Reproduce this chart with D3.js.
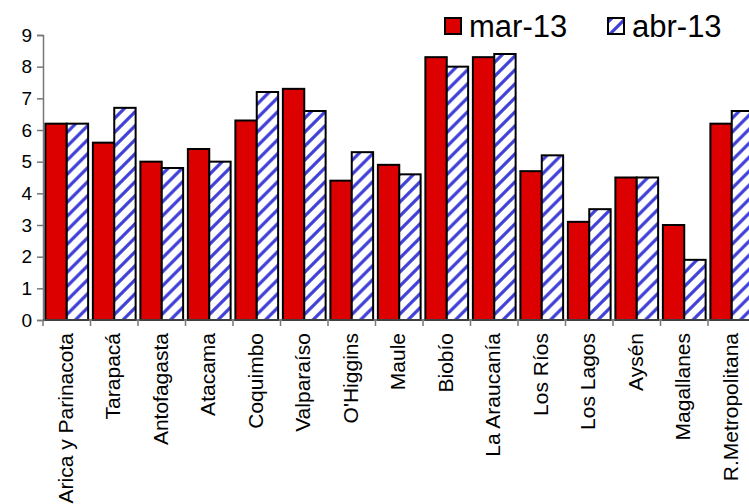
<!DOCTYPE html>
<html>
<head>
<meta charset="utf-8">
<script src="https://cdn.jsdelivr.net/npm/d3@7"></script>
<style>
  body { margin: 0; background: #fff; }
  text { font-family: "Liberation Sans", Arial, sans-serif; fill: #000; }
</style>
</head>
<body>
<svg id="svg_elem"></svg>
<script>
//define data
const regions = ['Arica y Parinacota', 'Tarapacá', 'Antofagasta', 'Atacama', 'Coquimbo', 'Valparaíso',
	"O'Higgins", 'Maule', 'Biobío', 'La Araucanía', 'Los Ríos', 'Los Lagos', 'Aysén', 'Magallanes', 'R.Metropolitana'];
const seriesNames = ['mar-13', 'abr-13'];
const mar13 = [6.2, 5.6, 5.0, 5.4, 6.3, 7.3, 4.4, 4.9, 8.3, 8.3, 4.7, 3.1, 4.5, 3.0, 6.2];
const abr13 = [6.2, 6.7, 4.8, 5.0, 7.2, 6.6, 5.3, 4.6, 8.0, 8.4, 5.2, 3.5, 4.5, 1.9, 6.6];
const yTicks = [0, 1, 2, 3, 4, 5, 6, 7, 8, 9];

//define constants
const svgWidth = 749;
const svgHeight = 504;
const plotLeft = 43;
const plotRight = 755.5;
const plotTop = 35;
const plotBottom = 320;

const rows = regions.map((r, i) => ({region: r, values: [mar13[i], abr13[i]]}));

//configure svg window
var svg = d3.select('#svg_elem')
	.attr('width', svgWidth)
	.attr('height', svgHeight);

//pattern for second series
var defs = svg.append('defs');
var pat = defs.append('pattern')
	.attr('id', 'stripes')
	.attr('patternUnits', 'userSpaceOnUse')
	.attr('width', 14)
	.attr('height', 14);
pat.append('rect').attr('width', 14).attr('height', 14).attr('fill', '#fff');
pat.append('path')
	.attr('d', 'M-3.5,3.5 L3.5,-3.5 M0,14 L14,0 M10.5,17.5 L17.5,10.5')
	.attr('stroke', '#4040d8')
	.attr('stroke-width', 3.2);

const fills = ['#dd0000', 'url(#stripes)'];

//scales
var xScale = d3.scaleBand()
	.domain(regions)
	.range([plotLeft, plotRight])
	.paddingInner(0.1)
	.paddingOuter(0.05);
var xInner = d3.scaleBand()
	.domain(seriesNames)
	.range([0, xScale.bandwidth()]);
var yScale = d3.scaleLinear()
	.domain([0, 9])
	.range([plotBottom, plotTop]);

//bars
var groups = svg.selectAll('.grp')
	.data(rows)
	.enter()
	.append('g')
		.classed('grp', true)
		.attr('transform', d => `translate(${xScale(d.region)},0)`);
groups.selectAll('rect')
	.data(d => d.values.map((v, j) => ({s: seriesNames[j], v: v, j: j})))
	.enter()
	.append('rect')
		.attr('x', d => xInner(d.s))
		.attr('y', d => yScale(d.v))
		.attr('width', xInner.bandwidth())
		.attr('height', d => yScale(0) - yScale(d.v))
		.attr('fill', d => fills[d.j])
		.attr('stroke', '#000')
		.attr('stroke-width', 2);

//y axis
var yAxis = d3.axisLeft(yScale).tickValues(yTicks).tickSize(6).tickPadding(5);
var yG = svg.append('g')
	.attr('transform', `translate(${plotLeft},0)`)
	.call(yAxis);
yG.select('.domain').attr('stroke', '#777').attr('stroke-width', 1.5);
yG.selectAll('.tick line').attr('stroke', '#777').attr('stroke-width', 1.5);
yG.selectAll('.tick text')
	.style('font-size', '19px')
	.style('font-family', '"Liberation Sans", Arial, sans-serif');

//x axis line and boundary ticks
svg.append('line')
	.attr('x1', plotLeft).attr('x2', plotRight)
	.attr('y1', plotBottom).attr('y2', plotBottom)
	.attr('stroke', '#555').attr('stroke-width', 1.5);
svg.selectAll('.xtick')
	.data(d3.range(regions.length + 1))
	.enter()
	.append('line')
		.classed('xtick', true)
		.attr('x1', i => plotLeft + i * xScale.step())
		.attr('x2', i => plotLeft + i * xScale.step())
		.attr('y1', plotBottom)
		.attr('y2', plotBottom + 6)
		.attr('stroke', '#777').attr('stroke-width', 1.5);

//x labels
svg.selectAll('.xlabel')
	.data(regions)
	.enter()
	.append('text')
		.classed('xlabel', true)
		.text(d => d)
		.attr('transform', d => `translate(${xScale(d) + xScale.bandwidth() / 2 + 6}, 333) rotate(-90)`)
		.attr('text-anchor', 'end')
		.style('font-size', '21px');

//legend
var legend = svg.append('g');
var legendX = [445, 608];
seriesNames.forEach((s, j) => {
	legend.append('rect')
		.attr('x', legendX[j]).attr('y', 18)
		.attr('width', 16).attr('height', 16)
		.attr('fill', fills[j])
		.attr('stroke', '#000').attr('stroke-width', 2);
	legend.append('text')
		.attr('x', legendX[j] + 24).attr('y', 37)
		.text(s)
		.style('font-size', '31px');
});
</script>
</body>
</html>
